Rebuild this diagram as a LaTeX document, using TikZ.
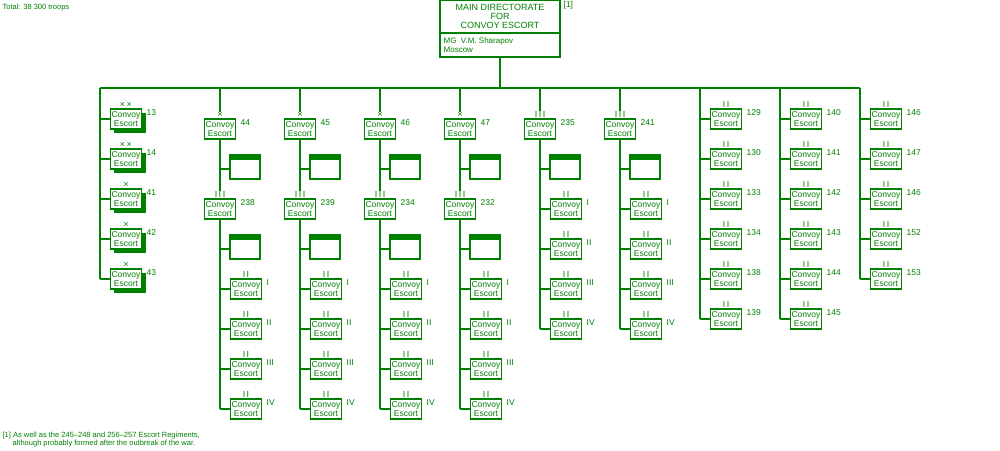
\documentclass[tikz,border=0pt]{standalone}
\usepackage{fontspec}
\setmainfont{Liberation Sans}
\definecolor{g}{RGB}{0,128,0}
\begin{document}
\begin{tikzpicture}[x=1pt,y=-1pt,line width=1.3pt,
  every node/.style={text=g,font=\fontsize{8.5}{8.5}\selectfont,inner sep=0pt},
  ln/.style={draw=g,line width=1.3pt},
  cu/.style={draw=g,fill=white,line width=1.3pt,minimum width=31pt,minimum height=20pt,align=center},
  hq/.style={draw=g,fill=white,line width=1.3pt,minimum width=30pt,minimum height=20pt},
  lab/.style={anchor=west},
  sym/.style={anchor=south,font=\fontsize{9}{9}\selectfont}]
\useasboundingbox (0,0) rectangle (1000,450);
\newcommand\CU[5]{% name,x,y,symbol,label
  \node[cu] (#1) at (#2,#3) {Convoy\\Escort};
  \node[sym] (#1s) at (#2,#3-10.5) {#4};
  \node[lab] (#1l) at (#2+20,#3-6) {#5};}
\newcommand\HQ[3]{%
  \node[hq] (#1) at (#2,#3) {};
  \fill[g] (#1.north west) rectangle ([yshift=4pt]#1.north east);}
\node[anchor=north west,font=\fontsize{7.5}{8}\selectfont] (tot) at (2,3) {Total: 38 300 troops};
% top
\node[draw=g,line width=1.3pt,minimum width=120pt,minimum height=57pt] (md) at (500,28.5) {};
\draw[ln] (440,33) -- (560,33);
\node[align=center,font=\fontsize{9}{9}\selectfont] (mdt) at (500,16.5) {MAIN DIRECTORATE\\FOR\\CONVOY ESCORT};
\node[anchor=west,align=left,font=\fontsize{8}{9}\selectfont] (mdb) at (443,45) {MG\ \ V.M. Sharapov\\Moscow};
\node[anchor=west] (fn) at (563,5) {[1]};
\coordinate (bar) at (500,88);
\draw[ln] (md.south) -- (bar);
\draw[ln] (100,88) -- (860,88);
% left column
\coordinate (c0) at (100,88);
\foreach \y/\s/\l [count=\i] in {119/{×\,×}/13,159/{×\,×}/14,199/×/41,239/×/42,279/×/43}{
  \fill[g] (114,\y-6) rectangle (146,\y+14);
  \CU{L\i}{126}{\y}{\s}{\l}
  \draw[ln] (100,\y) -- (L\i.west);}
\draw[ln] (c0) -- (100,279);
% brigade columns
\foreach \x/\b/\r [count=\i] in {220/44/238,300/45/239,380/46/234,460/47/232}{
  \CU{B\i}{\x}{129}{×}{\b}
  \HQ{H\i}{\x+25}{169}
  \CU{R\i}{\x}{209}{I\,I\,I}{\r}
  \HQ{K\i}{\x+25}{249}
  \draw[ln] (\x,88) -- (B\i s.north);
  \draw[ln] (B\i.south) -- (R\i s.north);
  \draw[ln] (R\i.south) -- (\x,409);
  \draw[ln] (\x,169) -- (H\i.west);
  \draw[ln] (\x,249) -- (K\i.west);
  \foreach \y/\n [count=\j] in {289/I,329/II,369/III,409/IV}{
    \CU{V\i\j}{\x+26}{\y}{I\,I}{\n}
    \draw[ln] (\x,\y) -- (V\i\j.west);}
}
\foreach \x/\r [count=\i] in {540/235,620/241}{
  \CU{P\i}{\x}{129}{I\,I\,I}{\r}
  \HQ{Q\i}{\x+25}{169}
  \draw[ln] (\x,88) -- (P\i s.north);
  \draw[ln] (P\i.south) -- (\x,329);
  \draw[ln] (\x,169) -- (Q\i.west);
  \foreach \y/\n [count=\j] in {209/I,249/II,289/III,329/IV}{
    \CU{W\i\j}{\x+26}{\y}{I\,I}{\n}
    \draw[ln] (\x,\y) -- (W\i\j.west);}
}
% right columns
\foreach \y/\l [count=\j] in {119/129,159/130,199/133,239/134,279/138,319/139}{
  \CU{X1\j}{726}{\y}{I\,I}{\l}\draw[ln] (700,\y) -- (X1\j.west);}
\foreach \y/\l [count=\j] in {119/140,159/141,199/142,239/143,279/144,319/145}{
  \CU{X2\j}{806}{\y}{I\,I}{\l}\draw[ln] (780,\y) -- (X2\j.west);}
\foreach \y/\l [count=\j] in {119/146,159/147,199/146,239/152,279/153}{
  \CU{X3\j}{886}{\y}{I\,I}{\l}\draw[ln] (860,\y) -- (X3\j.west);}
\draw[ln] (700,88) -- (700,319);
\draw[ln] (780,88) -- (780,319);
\draw[ln] (860,88) -- (860,279);
\node[anchor=north west,align=left,font=\fontsize{7.5}{8.5}\selectfont] (note) at (2,431) {[1] As well as the 245--248 and 256--257 Escort Regiments,\\\hspace*{10pt}although probably formed after the outbreak of the war.};
\end{tikzpicture}
\end{document}
